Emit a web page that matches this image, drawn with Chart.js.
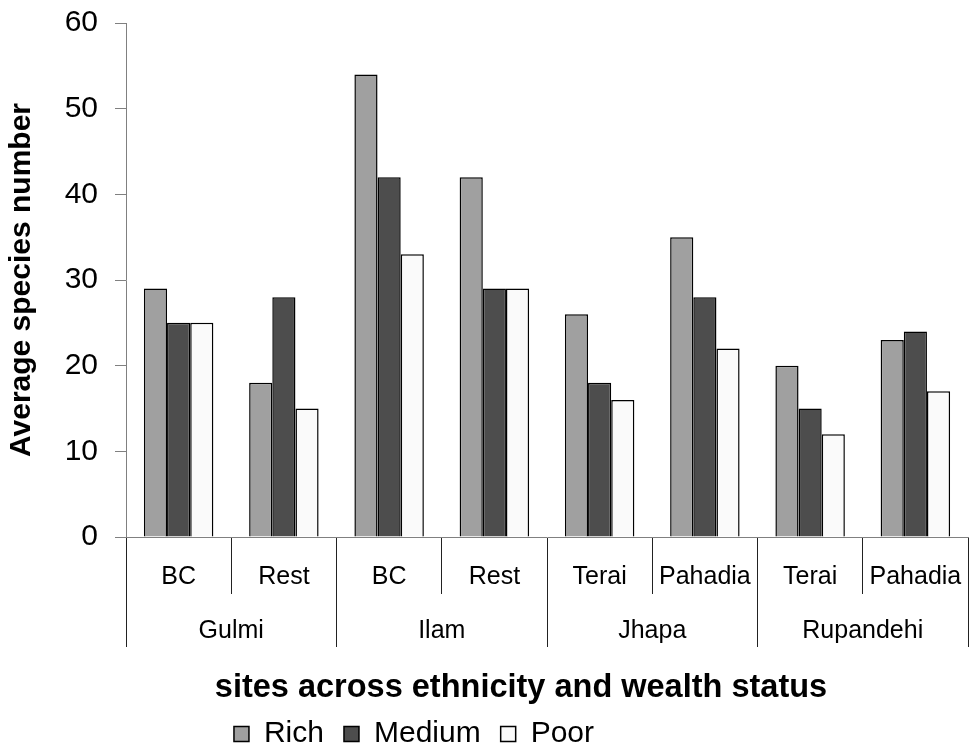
<!DOCTYPE html>
<html>
<head>
  <title>Average species number</title>
  <meta charset="UTF-8">
  <script src="https://cdn.jsdelivr.net/npm/chart.js"></script>
  <style>
    html, body { margin: 0; padding: 0; background: #fff; }
    #wrap { width: 969px; height: 749px; }
  </style>
</head>
<body>
  <div id="wrap"><canvas id="chart"></canvas></div>
  <script>
    // sub categories (ethnicity) and their districts
    const sites = ["BC", "Rest", "BC", "Rest", "Terai", "Pahadia", "Terai", "Pahadia"];
    const districts = ["Gulmi", "Ilam", "Jhapa", "Rupandehi"];

    // average species number per wealth class
    const rich = [29, 18, 54, 42, 26, 35, 20, 23];
    const medium = [25, 28, 42, 29, 18, 28, 15, 24];
    const poor = [25, 15, 33, 29, 16, 22, 12, 17];

    const yMin = 0;
    const yMax = 60;
    const yStep = 10;

    const font = "'Liberation Sans', Arial, sans-serif";

    // moves title and legend to where they sit in the original picture
    const shiftBlocks = {
      id: "shiftBlocks",
      afterLayout(chart) {
        const t = chart.titleBlock;
        if (t) { t.left += 37; t.right += 37; }
        const l = chart.legend;
        if (l) { l.left -= 70; l.right -= 70; l.top -= 5; l.bottom -= 5; }
      }
    };

    new Chart(document.getElementById("chart"), {
      type: "bar",
      data: {
        labels: sites,
        datasets: [
          { label: "Rich", data: rich, backgroundColor: "#a0a0a0" },
          { label: "Medium", data: medium, backgroundColor: "#4d4d4d" },
          { label: "Poor", data: poor, backgroundColor: "#fafafa" }
        ]
      },
      options: {
        responsive: true,
        maintainAspectRatio: false,
        animation: false,
        devicePixelRatio: 1,
        layout: { padding: { top: 23, right: 1, left: 0, bottom: 0 } },
        datasets: {
          bar: {
            categoryPercentage: 0.66,
            barPercentage: 1,
            borderColor: "#000",
            borderWidth: 1.5
          }
        },
        scales: {
          x: {
            offset: true,
            grid: { offset: true, drawOnChartArea: false, tickLength: 57, color: "#222", lineWidth: 1 },
            border: { color: "#808080" },
            ticks: { font: { family: font, size: 25 }, color: "#000", padding: -32, maxRotation: 0, autoSkip: false },
            afterFit(s) { s.height = 57; }
          },
          x2: {
            type: "category",
            labels: districts,
            position: "bottom",
            offset: true,
            grid: { offset: true, drawOnChartArea: false, tickLength: 53, color: "#222", lineWidth: 1 },
            border: { display: false },
            ticks: { font: { family: font, size: 25 }, color: "#000", padding: -31, maxRotation: 0, autoSkip: false },
            afterFit(s) { s.height = 53; }
          },
          y: {
            min: yMin,
            max: yMax,
            ticks: { stepSize: yStep, font: { family: font, size: 30 }, color: "#000", padding: 17 },
            grid: { drawOnChartArea: false, tickLength: 11, color: "#808080" },
            border: { color: "#808080" },
            title: {
              display: true,
              text: "Average species number",
              font: { family: font, size: 30, weight: "bold" },
              color: "#000",
              padding: { top: 4, bottom: 0 }
            },
            afterFit(s) {
              s.width = 126;
              s.paddingTop = 0;
              s.paddingBottom = 0;
            }
          }
        },
        plugins: {
          title: {
            display: true,
            text: "sites across ethnicity and wealth status",
            position: "bottom",
            weight: 500,
            font: { family: font, size: 32.5, weight: "bold", lineHeight: 1 },
            color: "#000",
            padding: { top: 24.5, bottom: 0 }
          },
          legend: {
            position: "bottom",
            maxHeight: 45,
            labels: {
              boxWidth: 15,
              boxHeight: 15,
              padding: 20,
              font: { family: font, size: 30 },
              color: "#000"
            }
          },
          tooltip: { enabled: false }
        }
      },
      plugins: [shiftBlocks]
    });
  </script>
</body>
</html>
